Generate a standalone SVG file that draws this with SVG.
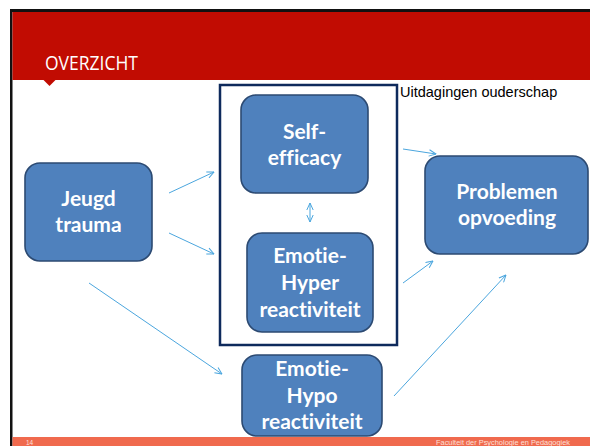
<svg xmlns="http://www.w3.org/2000/svg" width="590" height="446" viewBox="0 0 590 446">
<style>
.node rect{fill:#4F81BD;stroke:#2C4A72;stroke-width:1.6}
.node text{font-family:Lato,"Open Sans",sans-serif;font-weight:700;font-size:21px;fill:#fff;text-anchor:middle;font-variant-ligatures:none}
.conn line{stroke:#4BA6DE;stroke-width:1;fill:none}
</style>
<defs>
<marker id="ah" viewBox="0 0 8 8" refX="7.5" refY="4" markerWidth="8" markerHeight="8" markerUnits="userSpaceOnUse" orient="auto-start-reverse">
<path d="M0.5,0.8 L7.5,4 L0.5,7.2" fill="none" stroke="#4BA6DE" stroke-width="1"/>
</marker>
</defs>
<rect x="0" y="0" width="590" height="446" fill="#fff"/>
<g id="frame">
<rect x="10" y="9" width="580" height="3" fill="#111"/>
<rect x="10" y="9" width="2.5" height="437" fill="#111"/>
<rect x="12.5" y="12" width="577.5" height="68" fill="#C10C02"/>
<path d="M43.5,80 L55.5,80 L49.5,86 Z" fill="#C10C02"/>
<text x="45" y="70" font-family="'Open Sans',sans-serif" font-weight="400" font-size="20" fill="#fff" textLength="93" lengthAdjust="spacingAndGlyphs">OVERZICHT</text>
<rect x="12.5" y="437" width="577.5" height="9" fill="#F06A4E"/>
<text x="26" y="444.5" font-family="'Liberation Sans',Arial,sans-serif" font-size="6.5" fill="#fde0d8">14</text>
<text x="436" y="444.5" font-family="'Liberation Sans',Arial,sans-serif" font-size="6.5" fill="#fde0d8" textLength="134" lengthAdjust="spacingAndGlyphs">Faculteit der Psychologie en Pedagogiek</text>
</g>
<g id="uitdagingen">
<rect x="220" y="85" width="177" height="260" fill="none" stroke="#0E2A5C" stroke-width="2.5"/>
<text x="400" y="97" font-family="'Liberation Sans',Arial,sans-serif" font-size="14.5" fill="#000">Uitdagingen ouderschap</text>
</g>
<g id="jeugd" class="node">
<rect x="25" y="163" width="127" height="98" rx="15"/>
<text x="88.5" y="206">Jeugd</text>
<text x="88.5" y="232">trauma</text>
</g>
<g id="self" class="node">
<rect x="241" y="95" width="127" height="98" rx="15"/>
<text x="304.5" y="139">Self-</text>
<text x="304.5" y="165">efficacy</text>
</g>
<g id="hyper" class="node">
<rect x="247" y="233" width="126" height="99" rx="15"/>
<text x="310" y="263">Emotie-</text>
<text x="310" y="290">Hyper</text>
<text x="310" y="317">reactiviteit</text>
</g>
<g id="problemen" class="node">
<rect x="425" y="156" width="163" height="98" rx="15"/>
<text x="507" y="199">Problemen</text>
<text x="507" y="225">opvoeding</text>
</g>
<g id="hypo" class="node">
<rect x="242" y="355" width="140" height="81" rx="15"/>
<text x="312" y="376">Emotie-</text>
<text x="312" y="403">Hypo</text>
<text x="312" y="429">reactiviteit</text>
</g>
<g id="connectors" class="conn">
<line x1="169" y1="193" x2="214" y2="172" marker-end="url(#ah)"/>
<line x1="169" y1="233" x2="214" y2="254" marker-end="url(#ah)"/>
<line x1="89" y1="283" x2="222" y2="374" marker-end="url(#ah)"/>
<line x1="403" y1="149" x2="436" y2="154" marker-end="url(#ah)"/>
<line x1="403" y1="283" x2="433" y2="261" marker-end="url(#ah)"/>
<line x1="394" y1="396" x2="506" y2="275" marker-end="url(#ah)"/>
<line x1="310" y1="203" x2="310" y2="222" marker-start="url(#ah)" marker-end="url(#ah)"/>
</g>
</svg>
